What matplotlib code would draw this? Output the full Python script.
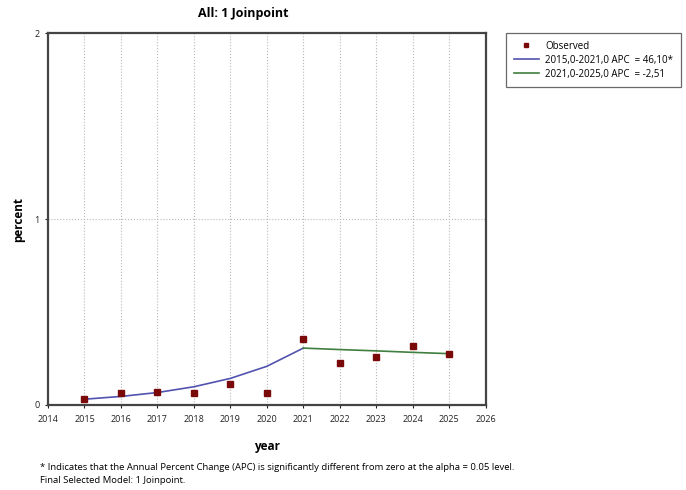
import numpy as np
import matplotlib.pyplot as plt

plt.rcParams['font.family'] = ['Open Sans', 'DejaVu Sans']

#%% Data:
years = [2015, 2016, 2017, 2018, 2019, 2020, 2021, 2022, 2023, 2024, 2025]
observed = [0.031, 0.063, 0.072, 0.063, 0.111, 0.063, 0.356, 0.228, 0.256, 0.319, 0.276]

seg1_years = [2015, 2016, 2017, 2018, 2019, 2020, 2021]
seg1_fit = [0.031, 0.046, 0.067, 0.098, 0.143, 0.208, 0.306]
seg2_years = [2021, 2022, 2023, 2024, 2025]
seg2_fit = [0.306, 0.298, 0.291, 0.283, 0.276]

labels = ["Observed",
          "2015,0-2021,0 APC  = 46,10*",
          "2021,0-2025,0 APC  = -2,51"]
xticks = list(range(2014, 2027))

#%% Plot
fig = plt.figure(figsize=(6.86, 4.90), dpi=100)
ax = fig.add_axes([0.070, 0.1735, 0.638, 0.759])

for x in xticks[1:-1]:
    ax.axvline(x, color='#b8b8b8', linestyle=':', linewidth=0.8, zorder=0)
ax.axhline(1, color='#b8b8b8', linestyle=':', linewidth=0.8, zorder=0)

h_obs, = ax.plot(years, observed, 's', color='#7a0a0a', markersize=4.5,
                 linestyle='none', label=labels[0], zorder=3)
h1, = ax.plot(seg1_years, seg1_fit, color='#5252b0', linewidth=1.2, label=labels[1])
h2, = ax.plot(seg2_years, seg2_fit, color='#3f7f3f', linewidth=1.2, label=labels[2])

ax.set_xlim(2014, 2026)
ax.set_ylim(0, 2)
ax.set_xticks(xticks)
ax.set_yticks([0, 1, 2])
ax.tick_params(labelsize=6.5, length=2.5, width=0.8, colors='#222222')
ax.tick_params(axis='x', pad=5)
for s in ax.spines.values():
    s.set_color('#444444')
    s.set_linewidth(1.6)

ax.set_xlabel("year", fontsize=8.5, fontweight='bold', labelpad=11)
ax.set_ylabel("percent", fontsize=8.5, fontweight='bold', labelpad=7)
fig.text(0.354, 0.972, "All: 1 Joinpoint", fontsize=9, fontweight='bold',
         ha='center', va='center')

leg = fig.legend(handles=[h_obs, h1, h2], loc='upper left',
                 bbox_to_anchor=(0.7376, 0.9327), borderaxespad=0,
                 fontsize=7, frameon=True, markerscale=0.6,
                 fancybox=False, edgecolor='#444444', handlelength=2.6,
                 borderpad=0.8, labelspacing=0.3, handletextpad=0.6)
leg.get_frame().set_linewidth(0.9)

fig.text(0.058, 0.033, "* Indicates that the Annual Percent Change (APC) is significantly "
         "different from zero at the alpha = 0.05 level.\nFinal Selected Model: 1 Joinpoint.",
         fontsize=6.8, ha='left', va='center', linespacing=1.5)

plt.savefig("out.png", dpi=100)
